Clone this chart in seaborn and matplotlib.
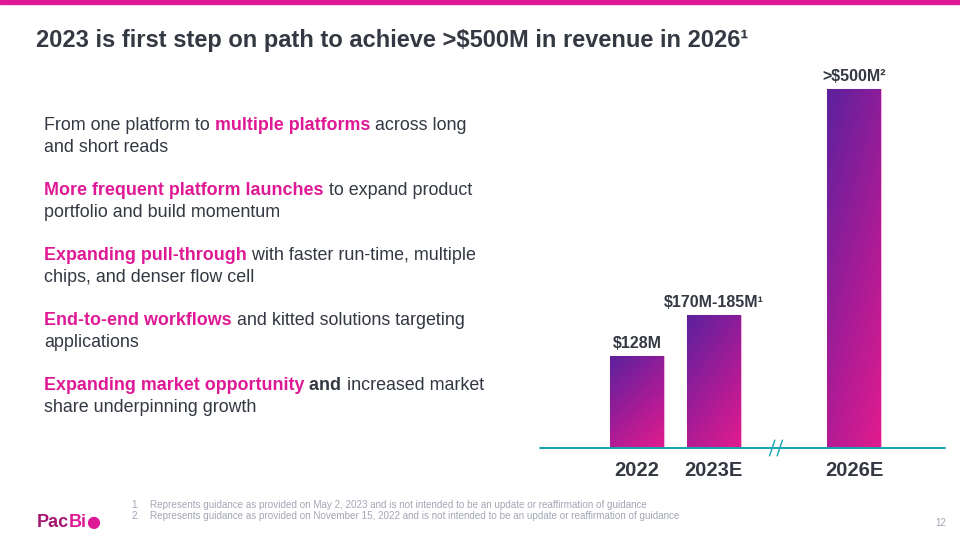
import numpy as np
import pandas as pd
import matplotlib
matplotlib.use("Agg")
import matplotlib.pyplot as plt
import seaborn as sns
from matplotlib.colors import LinearSegmentedColormap

# ---- data ----
years = ["2022", "2023E", "2026E"]
positions = [0, 1, 2.84]
revenue = [128, 185, 500]
value_labels = ["$128M", "$170M-185M\u00b9", ">$500M\u00b2"]

title = "2023 is first step on path to achieve >$500M in revenue in 2026\u00b9"
bullets = [
    [[("From one platform to ", "n"), ("multiple platforms", "p"), (" across long", "n")],
     [("and short reads", "n")]],
    [[("More frequent platform launches", "p"), (" to expand product", "n")],
     [("portfolio and build momentum", "n")]],
    [[("Expanding pull-through", "p"), (" with faster run-time, multiple", "n")],
     [("chips, and denser flow cell", "n")]],
    [[("End-to-end workflows", "p"), (" and kitted solutions targeting", "n")],
     [("applications", "n")]],
    [[("Expanding market opportunity", "p"), (" and", "b"), (" increased market", "n")],
     [("share underpinning growth", "n")]],
]
footnotes = [
    "Represents guidance as provided on May 2, 2023 and is not intended to be an update or reaffirmation of guidance",
    "Represents guidance as provided on November 15, 2022 and is not intended to be an update or reaffirmation of guidance",
]

PINK = "#df1995"
PURPLE = "#5c219e"
DARK = "#333842"
TEAL = "#14a4ad"
GRAY = "#a3a6b4"

sns.set_theme(style="white")
plt.rcParams["font.family"] = ["Liberation Sans", "DejaVu Sans"]

W, H = 960, 540
fig = plt.figure(figsize=(9.6, 5.4), dpi=100)
fig.patch.set_facecolor("white")

# top magenta band
fig.patches.append(plt.Rectangle((0, 1 - 4 / H), 1, 4 / H, transform=fig.transFigure,
                                 color=PINK, zorder=0))

# title
fig.text(36 / W, 1 - 46.5 / H, title, fontsize=17, fontweight="bold", color=DARK,
         va="baseline", ha="left")

# ---- chart ----
px_per_unit = 76.5
x0_px = 637
xl = ((540 - x0_px) / px_per_unit, (945 - x0_px) / px_per_unit)
base_px, top_px = 448, 60
scale = 359 / 500
ytop = (base_px - top_px) / scale
ax = fig.add_axes([540 / W, (H - base_px) / H, 405 / W, (base_px - top_px) / H])

df = pd.DataFrame({"pos": positions, "revenue": revenue, "year": years})
sns.barplot(data=df, x="pos", y="revenue", native_scale=True, width=54 / px_per_unit,
            color=PINK, edgecolor="#f3b3da", linewidth=0.8, ax=ax, zorder=2)

cmap = LinearSegmentedColormap.from_list("pb", [PURPLE, "#a01c97", "#e21b8e"])
uu, vv = np.meshgrid(np.linspace(0, 1, 60), np.linspace(0, 1, 200))
grad = 0.35 * uu + 0.65 * vv
for p in ax.patches:
    x, y = p.get_x(), p.get_y()
    w, h = p.get_width(), p.get_height()
    im = ax.imshow(grad, cmap=cmap, extent=[x, x + w, y, y + h], origin="upper",
                   aspect="auto", zorder=3, vmin=0, vmax=1)
    im.set_clip_path(p)

for xp, v, lab in zip(positions, revenue, value_labels):
    ax.annotate(lab, (xp, v), xytext=(0, 6), textcoords="offset points",
                ha="center", va="baseline", fontsize=11.5, fontweight="bold", color=DARK)

ax.set_xlim(*xl)
ax.set_ylim(0, ytop)
ax.axhline(0, color=TEAL, lw=1.4, zorder=4, clip_on=False)
# axis-break marks
bx = (776 - x0_px) / px_per_unit
for dx in (-0.05, 0.05):
    ax.plot([bx + dx - 0.035, bx + dx + 0.035], [-11, 11], color=TEAL, lw=1.0,
            clip_on=False, zorder=5)

for s in ax.spines.values():
    s.set_visible(False)
ax.set_yticks([])
ax.set_ylabel("")
ax.set_xlabel("")
ax.set_xticks(positions)
ax.set_xticklabels(years, fontsize=14.5, fontweight="bold", color=DARK)
ax.tick_params(axis="x", length=0, pad=9)
ax.set_facecolor("none")

# ---- body text ----
fig.canvas.draw()
renderer = fig.canvas.get_renderer()
style = {"n": dict(color=DARK, fontweight="normal"),
         "p": dict(color=PINK, fontweight="bold"),
         "b": dict(color=DARK, fontweight="bold")}
y = 130.5
for para in bullets:
    for li, line in enumerate(para):
        xpx = 44
        for txt, st in line:
            t = fig.text(xpx / W, 1 - y / H, txt, fontsize=12.9, va="baseline",
                         ha="left", **style[st])
            bb = t.get_window_extent(renderer)
            xpx += bb.width
        y += 21.7
    y += 65 - 2 * 21.7

# footnotes
for i, fn in enumerate(footnotes):
    yy = 1 - (508 + 11 * i) / H
    fig.text(131 / W, yy, f"{i + 1}.", fontsize=7.15, color=GRAY, va="baseline")
    fig.text(150 / W, yy, fn, fontsize=7.15, color=GRAY, va="baseline")

# logo and page number
lt = fig.text(37 / W, 1 - 527 / H, "Pac", fontsize=13, fontweight="bold",
              color="#a3166f", va="baseline")
bb = lt.get_window_extent(renderer)
lt2 = fig.text((37 + bb.width) / W, 1 - 527 / H, "Bi", fontsize=13, fontweight="bold",
               color=PINK, va="baseline")
bb2 = lt2.get_window_extent(renderer)
fig.text((36 + bb.width + bb2.width) / W, 1 - 527 / H, "\u25cf", fontsize=11.5,
         color=PINK, va="baseline", family=["DejaVu Sans"])
fig.text(946 / W, 1 - 526 / H, "12", fontsize=7, color=GRAY, va="baseline", ha="right")

fig.savefig("out.png", dpi=100)
